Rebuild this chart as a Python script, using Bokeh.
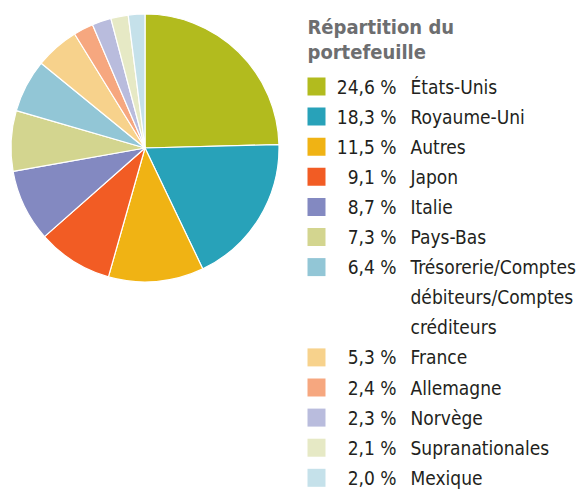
import math
from bokeh.plotting import figure
from bokeh.models import Range1d, ColumnDataSource
from bokeh.core.properties import value
from bokeh.embed import file_html
from bokeh.resources import INLINE

# ---- data ----
countries = ["États-Unis", "Royaume-Uni", "Autres", "Japon", "Italie", "Pays-Bas",
             "Trésorerie/Comptes\ndébiteurs/Comptes\ncréditeurs", "France", "Allemagne",
             "Norvège", "Supranationales", "Mexique"]
weights = [24.6, 18.3, 11.5, 9.1, 8.7, 7.3, 6.4, 5.3, 2.4, 2.3, 2.1, 2.0]
colors = ["#B2BB1E", "#28A2B9", "#F0B314", "#F25C24", "#8389C1", "#D3D58F",
          "#92C6D6", "#F7D28C", "#F6A77F", "#B9BCDD", "#E6E9C5", "#C5E1EA"]
title_lines = ["Répartition du", "portefeuille"]

W, H = 578, 493
FONT = "DejaVu Sans Condensed"

p = figure(width=W, height=H, output_backend="svg", toolbar_location=None,
           x_range=Range1d(0, W), y_range=Range1d(0, H), min_border=0,
           outline_line_color=None)
p.axis.visible = False
p.grid.visible = False

# ---- pie ----
total = sum(weights)
cx, cy, r = 144.5, H - 147.5, 134
starts, ends = [], []
a = math.pi / 2
for w in weights:
    starts.append(a)
    a -= w / total * 2 * math.pi
    ends.append(a)
src = ColumnDataSource(dict(start=starts, end=ends, color=colors))
p.wedge(x=cx, y=cy, radius=r, radius_units="screen", start_angle="end", end_angle="start",
        fill_color="color", line_color="white", line_width=1.2, source=src)

# ---- legend ----
tx = 307
p.text(x=[tx, tx], y=[H - 26, H - 51], text=title_lines, text_font=value(FONT),
       text_font_size="20px", text_font_style="bold", text_color="#6D6E70",
       text_baseline="middle")

row0, step = 86, 30.1
sq_x, sq_y, pct_x, pct_y, pct_t, nm_x, nm_y, nm_t, sq_c = [], [], [], [], [], [], [], [], []
row = 0
for name, w, c in zip(countries, weights, colors):
    y = H - (row0 + row * step)
    sq_x.append(tx + 9); sq_y.append(y); sq_c.append(c)
    pct_t.append(f"{w:.1f}".replace(".", ",") + " %")
    pct_x.append(396); pct_y.append(y)
    for i, line in enumerate(name.split("\n")):
        nm_x.append(410); nm_y.append(H - (row0 + (row + i) * step)); nm_t.append(line)
    row += len(name.split("\n"))

p.scatter(x=sq_x, y=sq_y, marker="square", size=18, fill_color=sq_c, line_color=None)
p.text(x=pct_x, y=pct_y, text=pct_t, text_font=value(FONT), text_font_size="19px",
       text_color="#231F20", text_baseline="middle", text_align="right")
p.text(x=nm_x, y=nm_y, text=nm_t, text_font=value(FONT), text_font_size="19px",
       text_color="#231F20", text_baseline="middle", text_align="left")

open("out.html", "w").write(file_html(p, INLINE))
